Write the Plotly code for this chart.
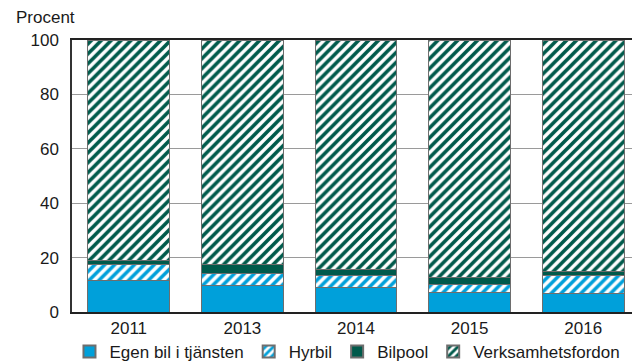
import plotly.graph_objects as go

years = ["2011", "2013", "2014", "2015", "2016"]
egen_bil = [11.5, 9.9, 9.1, 7.1, 6.7]
hyrbil = [6.1, 4.3, 4.5, 2.9, 6.6]
bilpool = [1.2, 3.1, 2.2, 2.8, 1.5]
verksamhet = [81.2, 82.7, 84.2, 87.2, 85.2]
y_ticks = [0, 20, 40, 60, 80, 100]

BLUE = "#00A0DA"
GREEN = "#005A4B"
LINE = dict(color="#6e6e6e", width=1)

fig = go.Figure()
fig.add_bar(x=years, y=egen_bil, name="Egen bil i tjänsten",
            marker=dict(color=BLUE, line=LINE))
fig.add_bar(x=years, y=hyrbil, name="Hyrbil",
            marker=dict(color="white", line=LINE,
                        pattern=dict(shape="/", fgcolor=BLUE, bgcolor="white",
                                     size=7, solidity=0.5, fillmode="replace")))
fig.add_bar(x=years, y=bilpool, name="Bilpool",
            marker=dict(color=GREEN, line=LINE))
fig.add_bar(x=years, y=verksamhet, name="Verksamhetsfordon",
            marker=dict(color="white", line=LINE,
                        pattern=dict(shape="/", fgcolor=GREEN, bgcolor="white",
                                     size=7, solidity=0.52, fillmode="replace")))

# page body has an 8px margin, so the figure is sized to end at the window edge
fig.update_layout(
    barmode="stack",
    bargap=0.28,
    width=632, height=356,
    margin=dict(l=64, r=0, t=32, b=52, autoexpand=False),
    paper_bgcolor="white", plot_bgcolor="white",
    font=dict(family="Liberation Sans, Arial, sans-serif", size=17, color="#1a1a1a"),
    showlegend=True,
    legend=dict(orientation="h", x=0.485, xanchor="center",
                yref="container", y=0.034, yanchor="middle",
                bgcolor="rgba(0,0,0,0)",
                font=dict(size=17), itemwidth=30, traceorder="normal",
                itemsizing="constant", tracegroupgap=0),
    annotations=[dict(text="Procent", xref="paper", yref="paper", x=-0.102, y=1.081,
                      xanchor="left", yanchor="middle", showarrow=False,
                      font=dict(size=17))],
)
fig.update_xaxes(showline=True, linecolor="#222", linewidth=1.5, mirror=True,
                 ticks="", tickfont=dict(size=17), showgrid=False)
fig.update_yaxes(range=[0, 100], tickvals=y_ticks, showline=True, linecolor="#333",
                 linewidth=1.5, mirror=False, showgrid=True, gridcolor="#9a9a9a",
                 gridwidth=1, zeroline=False, ticks="", ticklabelstandoff=8,
                 tickfont=dict(size=17))
fig.write_html("out.html")
